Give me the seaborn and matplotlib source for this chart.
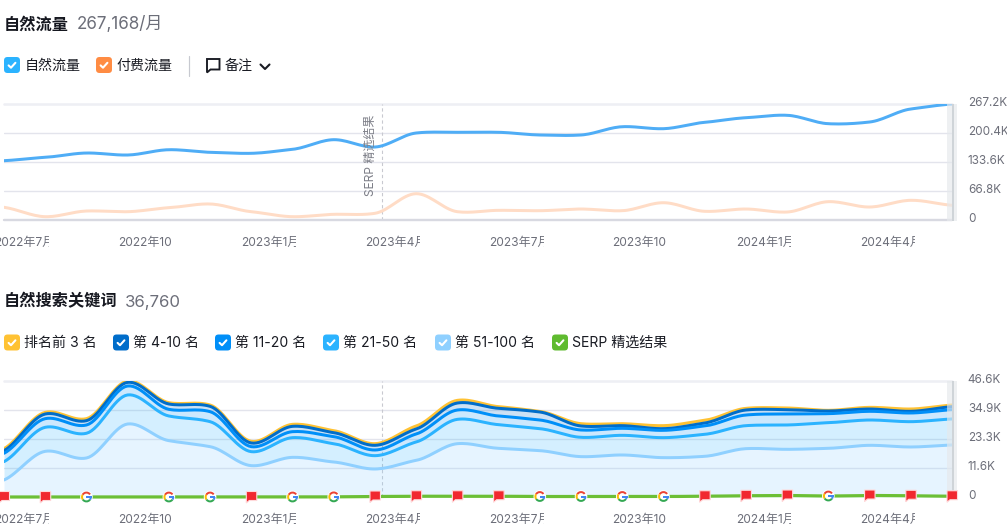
import numpy as np
import matplotlib
matplotlib.use("Agg")
import matplotlib.pyplot as plt
import seaborn as sns
from matplotlib.patches import FancyBboxPatch, PathPatch, Wedge, Circle, Rectangle, Polygon
from matplotlib.path import Path
from matplotlib.transforms import IdentityTransform, Affine2D, Bbox

W, H = 1007, 527

# ---------- data ----------
months = ["2022年7月","2022年8月","2022年9月","2022年10","2022年11月","2022年12月",
          "2023年1月","2023年2月","2023年3月","2023年4月","2023年5月","2023年6月",
          "2023年7月","2023年8月","2023年9月","2023年10","2023年11月","2023年12月",
          "2024年1月","2024年2月","2024年3月","2024年4月","2024年5月","2024年6月"]
organic = [136.6,144.4,154.3,149.7,161.9,155.9,153.6,162.8,185.0,168.1,200.4,202.0,
           202.0,195.8,195.8,214.9,210.3,225.0,235.6,241.2,221.8,225.7,255.7,267.2]
paid = [29.3,7.6,20.7,19.1,28.3,36.9,19.1,7.6,13.1,15.4,60.6,19.1,
        22.3,21.4,25.3,21.4,39.8,20.0,25.3,18.4,42.2,29.9,45.4,33.9]
top3 = [19.42,34.01,31.47,46.6,37.9,36.96,22.36,29.19,26.65,21.43,28.52,38.83,
        36.29,34.4,29.46,29.46,28.66,30.8,35.62,35.76,34.82,36.02,35.35,36.96]
pos4_10 = [18.61,33.34,30.66,46.06,37.36,36.42,21.69,28.39,25.84,20.76,27.32,37.76,
           35.62,34.15,28.53,28.66,27.45,29.73,34.95,35.09,34.55,35.35,34.42,36.29]
pos11_20 = [17.55,31.47,28.92,44.59,35.22,34.28,20.22,26.25,24.24,18.88,25.31,34.95,
            32.54,30.93,26.92,27.59,26.78,28.53,32.94,33.35,33.48,34.42,33.75,35.09]
pos21_50 = [14.2,28.0,25.6,41.0,32.54,30.26,18.21,23.84,21.42,16.6,22.1,31.2,
            29.06,27.45,23.97,24.78,23.84,25.18,28.66,28.93,29.86,30.93,30.26,31.34]
pos51_100 = [6.83,18.35,15.67,29.33,22.63,20.22,12.59,15.93,14.06,11.25,14.73,21.42,
             19.55,18.62,16.21,16.88,15.8,16.34,19.42,19.15,19.55,20.76,20.09,20.89]
serp = [0,0,0,0,0,0,0,0,0.05,0.2,0.3,0.3,0.3,0.2,0.2,0.2,0.2,0.3,0.5,0.6,0.4,0.6,0.5,0.3]
serp_kind = list("ffg-ggfggffffggggfffgfff")
yticks_top = [0, 66.8, 133.6, 200.4, 267.2]
ylabels_top = ["0", "66.8K", "133.6K", "200.4K", "267.2K"]
yticks_bot = [0, 11.65, 23.3, 34.95, 46.6]
ylabels_bot = ["0", "11.6K", "23.3K", "34.9K", "46.6K"]
note_month = 9

sns.set_theme(style="white")
FONT = ["Inter", "Noto Sans CJK SC", "DejaVu Sans"]
plt.rcParams["font.family"] = FONT
fig = plt.figure(figsize=(W / 100, H / 100), dpi=100, facecolor="white")
ID = IdentityTransform()
PT = 72 / 100


def ftext(x, y, s, size, color="#191b23", weight="normal", ha="left", rotation=0):
    fig.text(x / W, 1 - y / H, s, fontsize=size * PT, color=color, fontweight=weight,
             ha=ha, va="center", rotation=rotation, family=FONT)


def checkbox(x, y, color, size=16):
    fig.add_artist(FancyBboxPatch((x, H - y - size), size, size,
                                  boxstyle="round,pad=0,rounding_size=3.5", fc=color, ec="none", transform=ID))
    pts = [(x + 4.6, H - y - 8.4), (x + 7, H - y - 10.7), (x + 11.4, H - y - 5.8)]
    fig.add_artist(plt.Line2D(*zip(*pts), color="white", lw=1.5, transform=ID, solid_capstyle="round"))


def smooth(values, n=16):
    """Curve rendering between the monthly readings (cubic Hermite, as the source's smoothed line)."""
    v = np.asarray(values, float)
    t = np.gradient(v) * 0.62
    xs, ys = [], []
    for i in range(len(v) - 1):
        u = np.linspace(0, 1, n, endpoint=False)
        h00 = 2 * u**3 - 3 * u**2 + 1
        h10 = u**3 - 2 * u**2 + u
        h01 = -2 * u**3 + 3 * u**2
        h11 = u**3 - u**2
        ys.append(h00 * v[i] + h10 * t[i] + h01 * v[i + 1] + h11 * t[i + 1])
        xs.append(i + u)
    return np.r_[np.concatenate(xs), len(v) - 1], np.r_[np.concatenate(ys), v[-1]]


def make_axes(top, bottom, yticks, ylabels):
    ax = fig.add_axes([4 / W, 1 - bottom / H, (952 - 4) / W, (bottom - top) / H])
    ax.set_xlim(0, len(months) - 1)
    ax.set_ylim(0, yticks[-1])
    ax.set_yticks(yticks)
    ax.set_yticklabels(ylabels, va="center")
    ax.yaxis.tick_right()
    ax.tick_params(axis="y", length=0, pad=11.4, labelsize=11.7 * PT, labelcolor="#6c6e79")
    for lab in ax.get_yticklabels():
        lab.set_transform(lab.get_transform() + Affine2D().translate(0, 1.0))
    ax.set_xticks([])
    sns.despine(ax=ax, left=True, right=True, top=True, bottom=True)
    ax.set_axisbelow(True)
    ax.patch.set_alpha(0)
    for yv in yticks[1:-1]:
        ax.axhline(yv, color="#e3e4ec", lw=1.4 * PT, zorder=0)
    ax.axhline(yticks[-1], color="#eeeff4", lw=2.6 * PT, zorder=0, clip_on=False)
    ax.axvline(note_month + 0.17, color="#c8c9d0", lw=1.1 * PT, ls=(0, (3, 2.5)), zorder=1)
    # month labels, cut at the same width as in the source
    for k in range(0, len(months), 3):
        px_left = 4 + 41.22 * k - 10
        t = ax.text(k - 0.24, -23.0 / (bottom - top), months[k], transform=ax.get_xaxis_transform(),
                    fontsize=12 * PT, color="#6c6e79", ha="left", va="center", family=FONT, clip_on=True)
        t.set_clip_box(Bbox([[px_left, 0], [px_left + 55, H]]))
        t.set_clip_on(True)
    # right edge band
    for x0, x1, c, a in [(947, 957, "#e6e9ec", 0.65), (952, 953.5, "#cfd4d8", 1.0)]:
        fig.add_artist(Rectangle((x0, H - bottom - 1), x1 - x0, bottom - top + 1, fc=c, ec="none",
                                 transform=ID, zorder=0.5, alpha=a))
    return ax


def curve(ax, values, color, lw=3.0, zorder=3, alpha=1.0):
    x, y = smooth(values)
    sns.lineplot(x=x, y=y, ax=ax, color=color, lw=lw * PT, sort=False, errorbar=None,
                 zorder=zorder, alpha=alpha, solid_capstyle="round")
    return x, y


# ---------- top header ----------
ftext(4, 24.5, "自然流量", 16.2, "#15171f", "bold")
ftext(77, 25, "267,168/月", 17, "#6c6e79")
checkbox(4, 57, "#2bb3ff")
ftext(24.5, 66, "自然流量", 14)
checkbox(96, 57, "#ff8c43")
ftext(116, 66, "付费流量", 14)
fig.add_artist(plt.Line2D([188.5, 188.5], [H - 76, H - 56], color="#c7c9d0", lw=0.85, transform=ID))
sp = Path([(207, H - 59), (219.5, H - 59), (219.5, H - 69.5), (210.5, H - 69.5), (207, H - 72.5), (207, H - 59)],
          closed=True)
fig.add_artist(PathPatch(sp, fc="none", ec="#191b23", lw=1.9 * PT, transform=ID))
ftext(225, 65.5, "备注", 14)
fig.add_artist(plt.Line2D([260.5, 265, 269.5], [H - 64.5, H - 69, H - 64.5], color="#191b23", lw=1.5,
                          transform=ID, solid_capstyle="round"))

# ---------- top chart ----------
ax1 = make_axes(104, 220, yticks_top, ylabels_top)
ax1.axhline(0, color="#d8d9e1", lw=2.4 * PT, zorder=1, clip_on=False)
curve(ax1, paid, "#ffdcc6")
curve(ax1, organic, "#4fadf6")
ftext(370.5, 155, "SERP 精选结果", 12, "#7d7f88", rotation=90, ha="center")

# ---------- bottom header ----------
ftext(4, 301.5, "自然搜索关键词", 16.2, "#15171f", "bold")
ftext(125, 302, "36,760", 16.8, "#6c6e79")
legend_items = [(4, "#ffc233", "排名前 3 名"), (113, "#006dca", "第 4-10 名"), (215, "#008ff8", "第 11-20 名"),
                (323, "#2bb3ff", "第 21-50 名"), (435, "#8fd0ff", "第 51-100 名"), (552, "#5fbb2f", "SERP 精选结果")]
for x0, c, s in legend_items:
    checkbox(x0, 334.5, c)
    ftext(x0 + 20, 343, s, 14)

# ---------- bottom chart ----------
ax2 = make_axes(381, 497, yticks_bot, ylabels_bot)
series = [(top3, "#ffc233"), (pos4_10, "#006dca"), (pos11_20, "#008ff8"), (pos21_50, "#2bb3ff"), (pos51_100, "#8fd0ff")]
band_alpha = [0.2, 0.2, 0.2, 0.2, 0.22]
for i, ((vals, col), a) in enumerate(zip(series, band_alpha)):
    xs, upper = smooth(vals)
    lower = smooth(series[i + 1][0])[1] if i + 1 < len(series) else np.zeros_like(upper)
    ax2.fill_between(xs, lower, upper, color=col, alpha=a, lw=0, zorder=2)
for z, (vals, col) in enumerate(series):
    curve(ax2, vals, col, zorder=3 + z * 0.1)
x_s, y_s = smooth(serp)
sns.lineplot(x=x_s, y=y_s, ax=ax2, color="#6cbf36", lw=3.2 * PT, sort=False, errorbar=None, zorder=4, clip_on=False)

# SERP markers drawn at pixel size on the data positions
for k, kind in enumerate(serp_kind):
    if kind == "-":
        continue
    cx, cy = ax2.transData.transform((k, serp[k]))
    tr = Affine2D().translate(cx, cy)
    if kind == "f":
        pts = [(-5, 5.5), (5.5, 5.5), (5.5, -3.5), (-2, -3.5), (-5, -6)]
        fig.add_artist(Polygon(pts, closed=True, fc="#f1282f", ec="#ffd9da", lw=0.8, transform=tr, zorder=6))
    else:
        fig.add_artist(Circle((0, 0), 6.3, fc="white", ec="none", transform=tr, zorder=6))
        for t1, t2, c in [(35, 150, "#ea4335"), (150, 215, "#fbbc05"), (215, 325, "#34a853"), (325, 360, "#4285f4")]:
            fig.add_artist(Wedge((0, 0), 5.4, t1, t2, width=2.0, fc=c, ec="none", transform=tr, zorder=7))
        fig.add_artist(Rectangle((0, -1), 5.4, 2.0, fc="#4285f4", ec="none", transform=tr, zorder=7))

fig.savefig("out.png", dpi=100)
